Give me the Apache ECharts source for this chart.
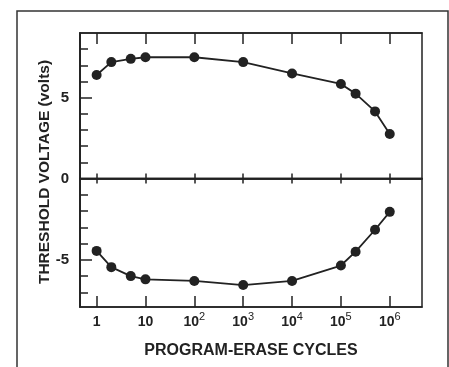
<!DOCTYPE html>
<html>
<head>
<meta charset="utf-8">
<script src="https://cdn.jsdelivr.net/npm/echarts@6/dist/echarts.min.js"></script>
<style>
html,body{margin:0;padding:0;background:#fff;}
#c{width:449px;height:367px;}
</style>
</head>
<body>
<div id="c"></div>
<script>
// Data
const cycles = [1, 2, 5, 10, 100, 1000, 1e4, 1e5, 2e5, 5e5, 1e6];
const programmedVt = [6.4, 7.2, 7.4, 7.5, 7.5, 7.2, 6.5, 5.85, 5.25, 4.15, 2.75];
const erasedVt = [-4.45, -5.45, -6.0, -6.2, -6.3, -6.55, -6.3, -5.35, -4.5, -3.15, -2.05];
const decadeTicks = [1, 10, 100, 1000, 1e4, 1e5, 1e6];
const yLabelsUpper = [0, 5];
const yLabelsLower = [-5];
const yMinorUpper = [1, 2, 3, 4, 6, 7, 8];
const yMinorLower = [-1, -2, -3, -4, -6, -7];
const xTitle = 'PROGRAM-ERASE CYCLES';
const yTitle = 'THRESHOLD VOLTAGE (volts)';

const ink = '#222';
const font = 'Liberation Sans, Arial, Helvetica, sans-serif';
const lg = v => Math.log10(v);
const xMin = -0.34, xMax = 6.66;
const tickPos = decadeTicks.map(lg);

function xAx(grid, pos, len, labels) {
  const a = {
    type: 'value', gridIndex: grid, position: pos, min: xMin, max: xMax,
    axisLine: {show: true, onZero: false, lineStyle: {color: ink, width: 1.5}},
    axisTick: {show: true, inside: true, length: len, customValues: tickPos, lineStyle: {color: ink, width: 1.5}},
    axisLabel: {show: false},
    splitLine: {show: false}
  };
  if (labels) {
    a.axisLabel = {
      show: true, customValues: tickPos, margin: 4,
      formatter: v => {
        const e = Math.round(v);
        if (e === 0) return '{b|1}';
        if (e === 1) return '{b|10}';
        return '{b|10}{s|' + e + '}';
      },
      rich: {
        b: {fontSize: 14, fontFamily: font, fontWeight: 'bold', color: ink, lineHeight: 18, verticalAlign: 'bottom'},
        s: {fontSize: 11, fontFamily: font, color: ink, lineHeight: 18, verticalAlign: 'top'}
      }
    };
    a.name = xTitle;
    a.nameLocation = 'middle';
    a.nameGap = 36;
    a.nameTextStyle = {fontSize: 16, fontFamily: font, fontWeight: 'bold', color: ink};
  }
  return a;
}
function yAx(grid, min, max, ticks, len, labels) {
  return {
    type: 'value', gridIndex: grid, position: 'left', min: min, max: max,
    axisLine: {show: true, onZero: false, lineStyle: {color: ink, width: 1.5}},
    axisTick: {show: true, inside: true, length: len, customValues: ticks, lineStyle: {color: ink, width: 1.5}},
    axisLabel: labels ? {show: true, customValues: labels, margin: 11, fontSize: 15, fontFamily: font, fontWeight: 'bold', color: ink} : {show: false},
    splitLine: {show: false}
  };
}

const chart = echarts.init(document.getElementById('c'), null, {renderer: 'canvas'});
chart.setOption({
  backgroundColor: '#fff',
  animation: false,
  grid: [
    {left: 80, top: 33, width: 342, height: 145.5, show: true, borderColor: ink, borderWidth: 1.5, containLabel: false},
    {left: 80, top: 178.5, width: 342, height: 128.5, show: true, borderColor: ink, borderWidth: 1.5, containLabel: false}
  ],
  xAxis: [
    xAx(0, 'bottom', 5, false),
    xAx(0, 'top', 11, false),
    xAx(1, 'top', 5, false),
    xAx(1, 'bottom', 11, true)
  ],
  yAxis: [
    yAx(0, 0, 9, [5], 12, yLabelsUpper),
    yAx(0, 0, 9, yMinorUpper, 8, null),
    yAx(1, -7.9, 0, [-5], 12, yLabelsLower),
    yAx(1, -7.9, 0, yMinorLower, 8, null)
  ],
  graphic: [
    {type: 'rect', shape: {x: 17, y: 11, width: 431, height: 380}, style: {fill: 'none', stroke: '#333', lineWidth: 1.5}, silent: true},
    {type: 'text', x: 45, y: 172, rotation: Math.PI / 2,
     style: {text: yTitle, fontSize: 15.5, fontFamily: font, fontWeight: 'bold', fill: ink, align: 'center', verticalAlign: 'middle'}}
  ],
  series: [
    {type: 'line', xAxisIndex: 0, yAxisIndex: 0, data: cycles.map((c, i) => [lg(c), programmedVt[i]]),
     symbol: 'circle', symbolSize: 10, lineStyle: {color: ink, width: 1.8}, itemStyle: {color: ink}},
    {type: 'line', xAxisIndex: 3, yAxisIndex: 2, data: cycles.map((c, i) => [lg(c), erasedVt[i]]),
     symbol: 'circle', symbolSize: 10, lineStyle: {color: ink, width: 1.8}, itemStyle: {color: ink}}
  ]
});
</script>
</body>
</html>
